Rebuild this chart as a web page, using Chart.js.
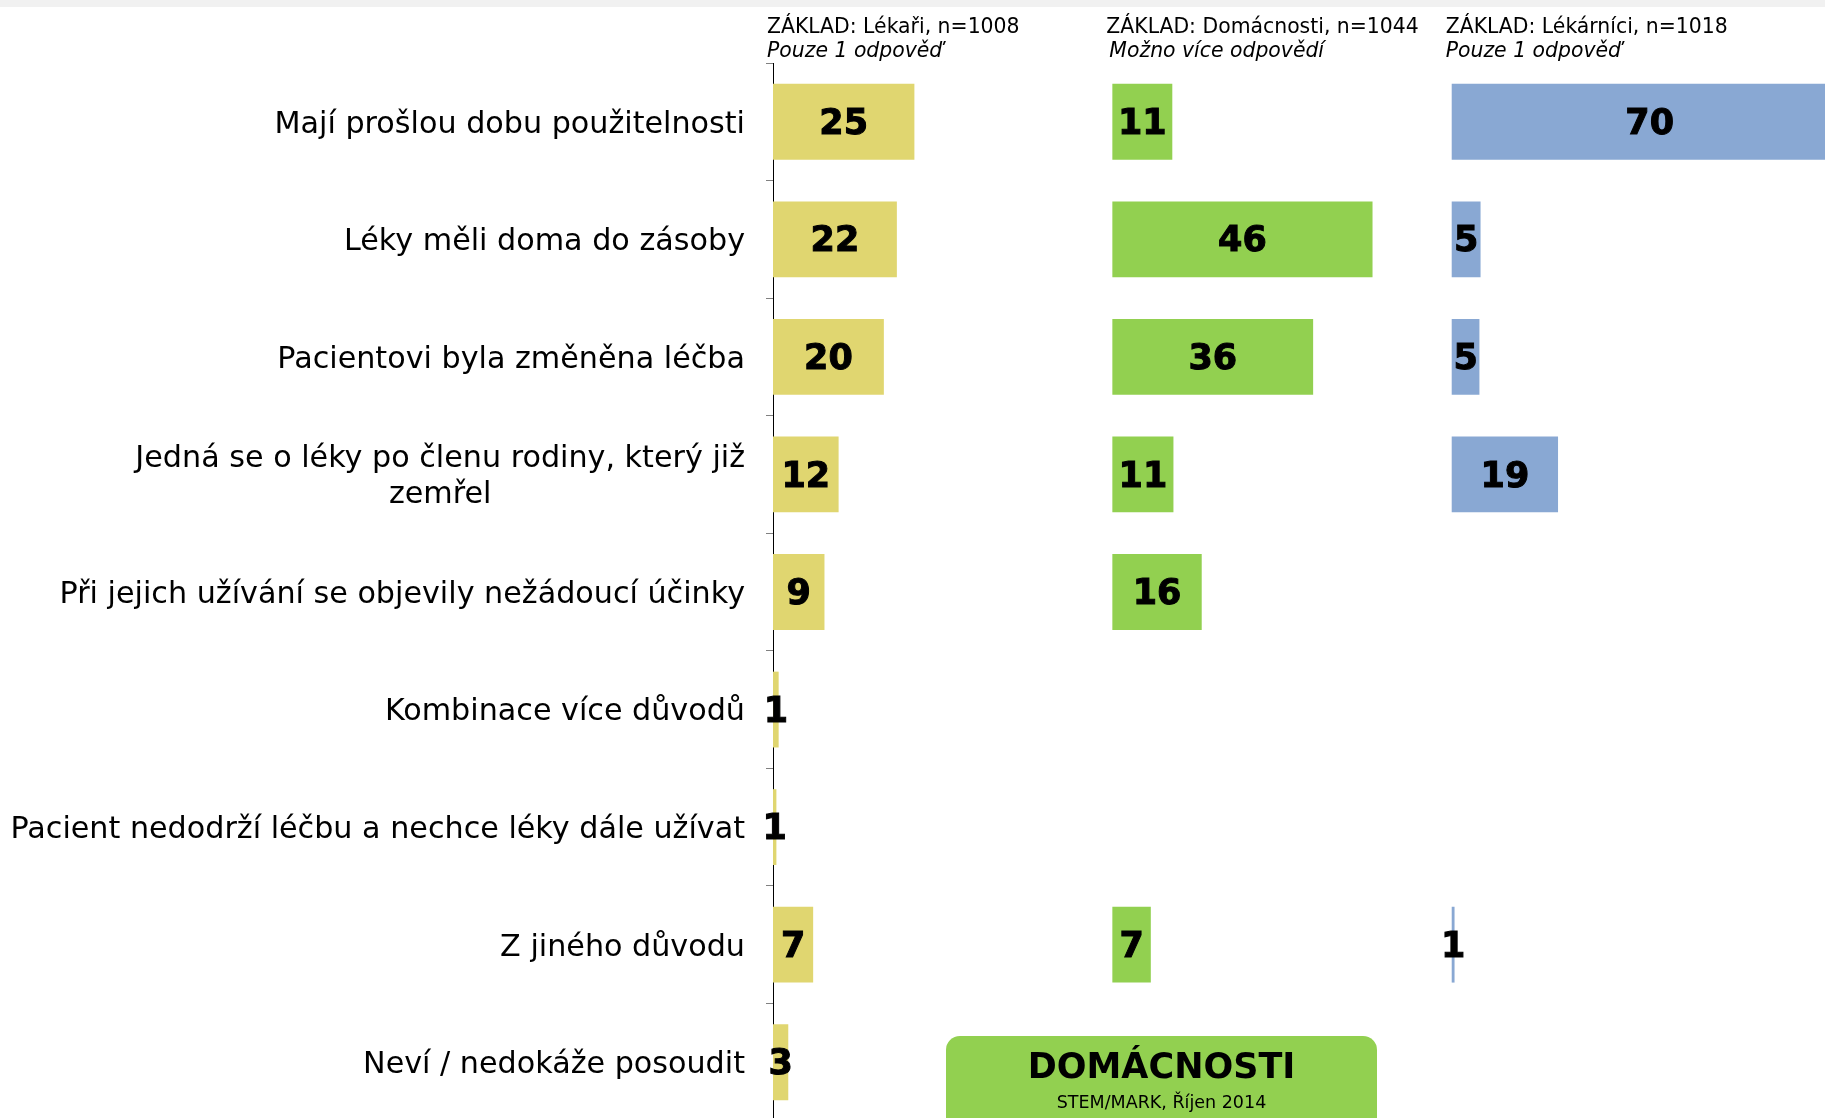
<!DOCTYPE html>
<html><head><meta charset="utf-8">
<script src="https://cdn.jsdelivr.net/npm/chart.js@4.4.1/dist/chart.umd.min.js"></script>
<style>
html,body{margin:0;padding:0;overflow:hidden;background:#fff;width:1825px;height:1118px;}
canvas{display:block;}
</style></head><body>
<canvas id="c" width="1825" height="1121"></canvas>
<script>
const categories = [
  'Mají prošlou dobu použitelnosti',
  'Léky měli doma do zásoby',
  'Pacientovi byla změněna léčba',
  ['Jedná se o léky po členu rodiny, který již', 'zemřel'],
  'Při jejich užívání se objevily nežádoucí účinky',
  'Kombinace více důvodů',
  'Pacient nedodrží léčbu a nechce léky dále užívat',
  'Z jiného důvodu',
  'Neví / nedokáže posoudit'
];
const lekari     = [25.0, 21.9, 19.6, 11.6, 9.1, 1.0, 0.6, 7.1, 2.7];
const domacnosti = [10.6, 46.0, 35.5, 10.8, 15.8, null, null, 6.8, null];
const lekarnici  = [70.0, 5.1, 4.9, 18.8, null, null, null, 0.5, null];
const panelHeaders = [
  ['ZÁKLAD: Lékaři, n=1008', 'Pouze 1 odpověď'],
  ['ZÁKLAD: Domácnosti, n=1044', 'Možno více odpovědí'],
  ['ZÁKLAD: Lékárníci, n=1018', 'Pouze 1 odpověď']
];
const panelOffsets = [0, 60, 120];
const axisSpan = 186;
const panelColors = ['#E0D670', '#92D050', '#89A8D3'];
const badgeTitle = 'DOMÁCNOSTI';
const badgeSource = 'STEM/MARK, Říjen 2014';

const FONT = '"DejaVu Sans", Verdana, sans-serif';

const decor = {
  id: 'decor',
  beforeDraw(chart) {
    const ctx = chart.ctx;
    ctx.save();
    ctx.fillStyle = '#f1f1f1';
    ctx.fillRect(0, 0, chart.width, 7);
    ctx.restore();
  },
  afterDatasetsDraw(chart) {
    const ctx = chart.ctx;
    ctx.save();
    ctx.font = 'bold 35px ' + FONT;
    ctx.fillStyle = '#000';
    ctx.strokeStyle = '#000';
    ctx.lineWidth = 1;
    ctx.textAlign = 'center';
    ctx.textBaseline = 'middle';
    chart.data.datasets.forEach((ds, i) => {
      const meta = chart.getDatasetMeta(i);
      meta.data.forEach((el, j) => {
        const v = ds.data[j];
        if (v == null) return;
        const t = String(Math.round(v));
        const x = (el.x + el.base) / 2, y = el.y + 3;
        ctx.fillText(t, x, y);
        ctx.strokeText(t, x, y);
      });
    });
    ctx.restore();
  },
  afterDraw(chart) {
    const ctx = chart.ctx;
    const ys = chart.scales.y;
    ctx.save();
    // category labels
    ctx.font = '30.2px ' + FONT;
    ctx.fillStyle = '#000';
    ctx.textBaseline = 'middle';
    ctx.textAlign = 'center';
    const xr = ys.right - 28;
    categories.forEach((lbl, i) => {
      const lines = Array.isArray(lbl) ? lbl : [lbl];
      const w = Math.max(...lines.map(l => ctx.measureText(l).width));
      const y = ys.getPixelForTick(i) + 3;
      lines.forEach((l, k) => {
        ctx.fillText(l, xr - w / 2, y + (k - (lines.length - 1) / 2) * 36);
      });
    });
    // panel headers
    ctx.textAlign = 'left';
    panelHeaders.forEach((h, p) => {
      const x0 = chart.scales['x' + (p + 1)].getPixelForValue(0) - 6;
      ctx.font = '20.4px ' + FONT;
      ctx.fillText(h[0], x0, 28);
      ctx.font = 'italic 20.4px ' + FONT;
      ctx.fillText(h[1], x0 + (p === 1 ? 3 : 0), 52);
    });
    // badge
    ctx.fillStyle = '#92D050';
    ctx.beginPath();
    ctx.roundRect(946, 1036, 431, 110, 14);
    ctx.fill();
    ctx.fillStyle = '#000';
    ctx.textAlign = 'center';
    ctx.font = 'bold 35px ' + FONT;
    ctx.fillText(badgeTitle, 1161.5, 1069);
    ctx.font = '17.5px ' + FONT;
    ctx.fillText(badgeSource, 1161.5, 1103);
    ctx.restore();
  }
};

const mkDs = (data, p) => ({
  data: data,
  backgroundColor: panelColors[p],
  borderWidth: 0,
  xAxisID: 'x' + (p + 1),
  yAxisID: 'y',
  grouped: false,
  barPercentage: 0.645,
  categoryPercentage: 1
});

const xAxis = p => ({
  type: 'linear', position: 'bottom', display: false,
  min: -panelOffsets[p], max: axisSpan - panelOffsets[p]
});

new Chart(document.getElementById('c'), {
  type: 'bar',
  data: {
    labels: categories,
    datasets: [mkDs(lekari, 0), mkDs(domacnosti, 1), mkDs(lekarnici, 2)]
  },
  options: {
    indexAxis: 'y',
    responsive: false,
    animation: false,
    devicePixelRatio: 1,
    layout: { padding: { top: 63, left: 0, right: 0, bottom: 0 } },
    plugins: { legend: { display: false }, tooltip: { enabled: false } },
    scales: {
      x1: xAxis(0), x2: xAxis(1), x3: xAxis(2),
      y: {
        type: 'category', position: 'left', offset: true,
        grid: { display: true, drawOnChartArea: false, drawTicks: true, tickLength: 7, tickColor: '#808080', offset: true },
        border: { display: true, color: '#000', width: 1 },
        ticks: { display: false },
        afterFit(s) { s.width = 773; }
      }
    }
  },
  plugins: [decor]
});
</script>
</body></html>
